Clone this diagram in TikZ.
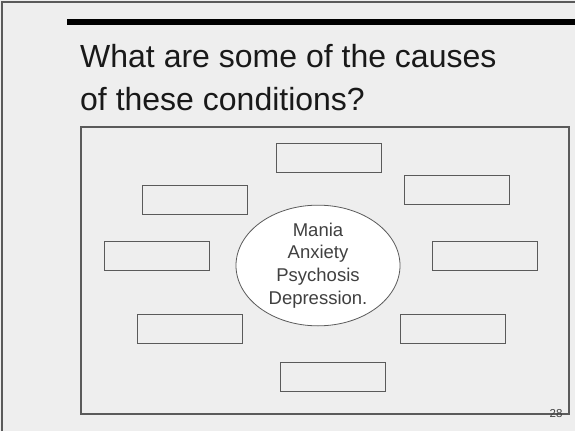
\documentclass[tikz,border=0pt]{standalone}
\usepackage{fontspec}
\setmainfont{Liberation Sans}
\usetikzlibrary{shapes.geometric}
\definecolor{bg}{HTML}{EEEEEE}
\definecolor{edge}{HTML}{5A5A5A}
\definecolor{txt}{HTML}{404040}
\begin{document}
\begin{tikzpicture}[x=1pt,y=-1pt,
  cause/.style={draw=edge,line width=1pt,minimum width=105pt,minimum height=29pt,inner sep=0pt,anchor=north west},
  title/.style={anchor=base west,inner sep=0pt,font=\fontsize{32}{38}\selectfont,text=black!90},
  hub/.style={ellipse,draw=edge,line width=0.8pt,fill=white,minimum width=164pt,minimum height=115pt,inner sep=0pt,text=txt,align=center,font=\fontsize{18.5}{22.7}\selectfont}]
\fill[bg] (0,0) rectangle (575,431);
\useasboundingbox (0,0) rectangle (575,431);
% slide edges
\draw[edge,line width=2pt] (2,431) -- (2,2) -- (575,2);
% black bar
\fill[black] (67,19) rectangle (575,25);
% title
\node[title] (t1) at (80,67) {What are some of the causes};
\node[title] (t2) at (80,110) {of these conditions?};
% frame
\draw[edge,line width=1.2pt] (81,127) rectangle (569,414);
\node[anchor=base,inner sep=0pt,text=txt,font=\fontsize{11.5}{13}\selectfont] (pg) at (556,417.5) {28};
% boxes
\node[cause] (b1) at (275.5,142.5) {};
\node[cause] (b2) at (404,175) {};
\node[cause] (b3) at (141.5,184.5) {};
\node[cause] (b4) at (103.5,241) {};
\node[cause] (b5) at (432,241) {};
\node[cause] (b6) at (136.5,313.5) {};
\node[cause] (b7) at (399.5,313.5) {};
\node[cause] (b8) at (280,361.5) {};
% centre
\node[hub] (c) at (318,265.5) {Mania\\Anxiety\\Psychosis\\Depression.};
\end{tikzpicture}
\end{document}
